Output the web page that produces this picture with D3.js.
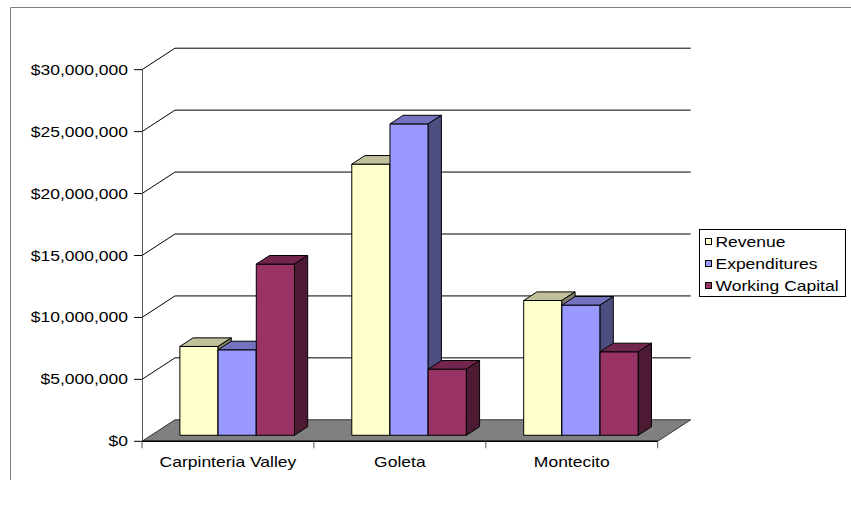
<!DOCTYPE html>
<html>
<head>
<meta charset="utf-8">
<script src="https://cdn.jsdelivr.net/npm/d3@7"></script>
<style>
  body { margin: 0; background: #fff; }
  svg { display: block; }
</style>
</head>
<body>
<div class="chart"></div>
<script>
// Data
const categories = ['Carpinteria Valley', 'Goleta', 'Montecito'];
const seriesNames = ['Revenue', 'Expenditures', 'Working Capital'];
const revenue = [7170000, 21890000, 10880000];
const expenditures = [6900000, 25140000, 10510000];
const workingCapital = [13820000, 5340000, 6740000];
const yTicks = [0, 5000000, 10000000, 15000000, 20000000, 25000000, 30000000];

// Parameters
const width = 851;
const height = 508;
const depth = { dx: 33, dy: -21.5 };   // full floor depth offset
const barZ0 = 0.28, barZ1 = 0.68;        // bar front/back depth
const stretch = 1.25;                     // the text in the picture is wide
const font = '"Liberation Sans", Arial, sans-serif';

const colors = {
  'Revenue':        { front: '#FFFFCC', top: '#C0C09A', side: '#80806A' },
  'Expenditures':   { front: '#9999FF', top: '#7373BF', side: '#4D4D80' },
  'Working Capital':{ front: '#993366', top: '#73264D', side: '#4D1A33' }
};

const values = { 'Revenue': revenue, 'Expenditures': expenditures, 'Working Capital': workingCapital };

const svg = d3.select('.chart')
  .append('svg')
  .attr('width', width)
  .attr('height', height)
  .style('font-family', font);

// frame
svg.append('path')
  .attr('d', 'M10.5,480 V7.5 H851')
  .attr('fill', 'none')
  .attr('stroke', '#808080')
  .attr('stroke-width', 1);

// scales
const scaleY = d3.scaleLinear().domain([0, 30000000]).range([441.3, 69.7]);
const scaleX = d3.scaleBand().domain(categories).range([142, 657.7]).padding(0);
const scaleSeries = d3.scaleBand().domain(seriesNames)
  .range([0, scaleX.bandwidth()]).paddingInner(0).paddingOuter(0.75);

// project a front-plane point to depth z (0..1)
const P = (x, y, z) => [x + z * depth.dx, y + z * depth.dy];
const poly = pts => 'M' + pts.map(p => p.join(',')).join('L') + 'Z';

const x0 = scaleX.range()[0], x1 = scaleX.range()[1];

// gridlines: left wall diagonal + back wall horizontal
const grid = svg.append('g').attr('fill', 'none').attr('stroke', '#000').attr('stroke-width', 1);
grid.selectAll('path')
  .data(yTicks.filter(d => d > 0))
  .join('path')
  .attr('d', d => {
    const y = scaleY(d);
    const a = P(x0, y, 0), b = P(x0, y, 1), c = P(x1, y, 1);
    return `M${a}L${b}L${c}`;
  });

// floor
svg.append('path')
  .attr('d', poly([P(x0, scaleY(0), 0), P(x1, scaleY(0), 0), P(x1, scaleY(0), 1), P(x0, scaleY(0), 1)]))
  .attr('fill', '#808080')
  .attr('stroke', '#333')
  .attr('stroke-width', 1);

// bars: left to right so each bar covers its neighbour's side
const bars = [];
categories.forEach((c, i) => {
  seriesNames.forEach(s => {
    bars.push({ cat: c, series: s, value: values[s][i] });
  });
});

const barG = svg.append('g')
  .attr('stroke', '#000')
  .attr('stroke-width', 1)
  .attr('stroke-linejoin', 'round');

bars.forEach(d => {
  const xl = scaleX(d.cat) + scaleSeries(d.series);
  const xr = xl + scaleSeries.bandwidth();
  const yb = scaleY(0), yt = scaleY(d.value);
  const g = barG.append('g');
  // front
  g.append('path')
    .attr('d', poly([P(xl, yb, barZ0), P(xr, yb, barZ0), P(xr, yt, barZ0), P(xl, yt, barZ0)]))
    .attr('fill', colors[d.series].front);
  // top
  g.append('path')
    .attr('d', poly([P(xl, yt, barZ0), P(xr, yt, barZ0), P(xr, yt, barZ1), P(xl, yt, barZ1)]))
    .attr('fill', colors[d.series].top);
  // side
  g.append('path')
    .attr('d', poly([P(xr, yb, barZ0), P(xr, yb, barZ1), P(xr, yt, barZ1), P(xr, yt, barZ0)]))
    .attr('fill', colors[d.series].side);
});

// value axis
svg.append('line')
  .attr('x1', x0 + 0.5).attr('x2', x0 + 0.5)
  .attr('y1', scaleY(30000000)).attr('y2', scaleY(0))
  .attr('stroke', '#555');

const yAxis = svg.append('g');
yAxis.selectAll('line')
  .data(yTicks)
  .join('line')
  .attr('x1', x0 - 8).attr('x2', x0)
  .attr('y1', d => scaleY(d)).attr('y2', d => scaleY(d))
  .attr('stroke', '#000');

const fmt = d3.format('$,.0f');
yAxis.selectAll('text')
  .data(yTicks)
  .join('text')
  .attr('transform', d => `translate(128,${scaleY(d) + 5}) scale(${stretch},1)`)
  .attr('text-anchor', 'end')
  .attr('font-size', 14)
  .attr('fill', '#000')
  .text(d => fmt(d));

// category axis
svg.append('line')
  .attr('x1', x0).attr('x2', x1)
  .attr('y1', scaleY(0)).attr('y2', scaleY(0))
  .attr('stroke', '#000').attr('stroke-width', 1.5);

const xTickPos = categories.map(c => scaleX(c)).concat([x1]);
svg.append('g').selectAll('line')
  .data(xTickPos)
  .join('line')
  .attr('x1', d => d).attr('x2', d => d)
  .attr('y1', scaleY(0)).attr('y2', scaleY(0) + 7)
  .attr('stroke', '#555');

svg.append('g').selectAll('text')
  .data(categories)
  .join('text')
  .attr('transform', d => `translate(${scaleX(d) + scaleX.bandwidth() / 2},466.5) scale(${stretch},1)`)
  .attr('text-anchor', 'middle')
  .attr('font-size', 14)
  .attr('fill', '#000')
  .text(d => d);

// legend
const legend = svg.append('g').attr('transform', 'translate(699.5,229.5)');
legend.append('rect')
  .attr('width', 146).attr('height', 67)
  .attr('fill', '#fff')
  .attr('stroke', '#000');

const items = legend.selectAll('g.item')
  .data(seriesNames)
  .join('g')
  .attr('class', 'item')
  .attr('transform', (d, i) => `translate(0,${12 + i * 22})`);

items.append('rect')
  .attr('x', 6).attr('y', -3)
  .attr('width', 6).attr('height', 6)
  .attr('fill', d => colors[d].front)
  .attr('stroke', '#000');

items.append('text')
  .attr('transform', `translate(16,5) scale(${stretch},1)`)
  .attr('font-size', 14)
  .attr('fill', '#000')
  .text(d => d);
</script>
</body>
</html>
